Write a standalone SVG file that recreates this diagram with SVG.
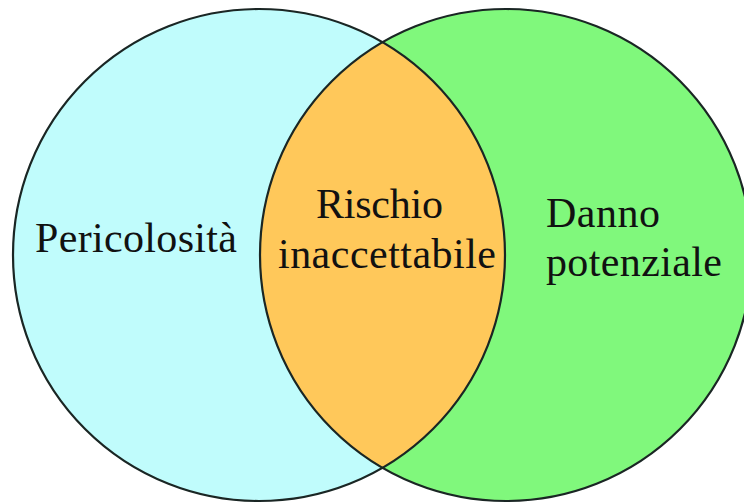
<svg xmlns="http://www.w3.org/2000/svg" width="744" height="504" viewBox="0 0 744 504">
  <style>
    .outline { fill: none; stroke: #1a2624; stroke-width: 2.2; }
    .label { font-family: "Liberation Serif", "Times New Roman", serif; font-size: 42px; fill: #111111; }
  </style>
  <defs>
    <clipPath id="clipLeft">
      <circle cx="259" cy="255" r="246"/>
    </clipPath>
  </defs>
  <rect width="744" height="504" fill="#ffffff"/>
  <g id="pericolosita">
    <circle cx="259" cy="255" r="246" fill="#c0fcfc"/>
  </g>
  <g id="danno-potenziale">
    <circle cx="506" cy="255" r="246" fill="#80f87c"/>
  </g>
  <g id="rischio-inaccettabile">
    <circle cx="506" cy="255" r="246" fill="#ffc85a" clip-path="url(#clipLeft)"/>
  </g>
  <g id="outlines">
    <circle class="outline" cx="259" cy="255" r="246"/>
    <circle class="outline" cx="506" cy="255" r="246"/>
  </g>
  <g id="labels">
    <text class="label" x="35" y="252" textLength="202" lengthAdjust="spacing">Pericolosità</text>
    <text class="label" x="316" y="218" textLength="127" lengthAdjust="spacing">Rischio</text>
    <text class="label" x="278" y="268" textLength="218" lengthAdjust="spacing">inaccettabile</text>
    <text class="label" x="546" y="227" textLength="114" lengthAdjust="spacing">Danno</text>
    <text class="label" x="546" y="276" textLength="176" lengthAdjust="spacing">potenziale</text>
  </g>
</svg>
